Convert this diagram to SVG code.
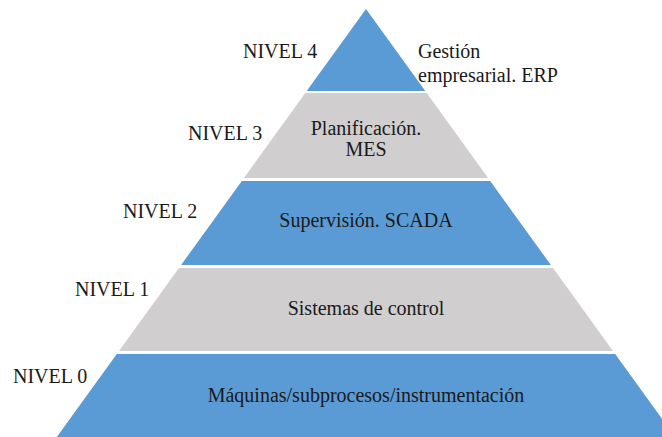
<svg xmlns="http://www.w3.org/2000/svg" width="662" height="437" viewBox="0 0 662 437">
<style>
.blue{fill:#5b9bd5}
.gray{fill:#d0cece}
text{font-size:20px;fill:#1a1a1a}
.c{text-anchor:middle}
</style>
<rect width="662" height="437" fill="#ffffff"/>
<g font-family="'Liberation Serif', Tinos, 'Times New Roman', 'DejaVu Serif', serif">
<g id="level4">
<polygon class="blue" points="366,9 425.3,91 306.7,91"/>
<text x="243" y="58">NIVEL 4</text>
<text x="418" y="58">Gestión</text>
<text x="418" y="82">empresarial. ERP</text>
</g>
<g id="level3">
<polygon class="gray" points="305.3,93 426.7,93 488.1,178 243.9,178"/>
<text x="188" y="140">NIVEL 3</text>
<text class="c" x="366" y="135">Planificación.</text>
<text class="c" x="366" y="156">MES</text>
</g>
<g id="level2">
<polygon class="blue" points="241.8,181 490.2,181 550.9,265 181.1,265"/>
<text x="123" y="218">NIVEL 2</text>
<text class="c" x="366" y="227">Supervisión. SCADA</text>
</g>
<g id="level1">
<polygon class="gray" points="179,268 553,268 613,351 119,351"/>
<text x="75" y="296">NIVEL 1</text>
<text class="c" x="366" y="315">Sistemas de control</text>
</g>
<g id="level0">
<polygon class="blue" points="116.8,354 615.2,354 675.2,437 56.8,437"/>
<text x="13" y="383">NIVEL 0</text>
<text class="c" x="366" y="402">Máquinas/subprocesos/instrumentación</text>
</g>
</g>
<g id="connectors"></g>
</svg>
